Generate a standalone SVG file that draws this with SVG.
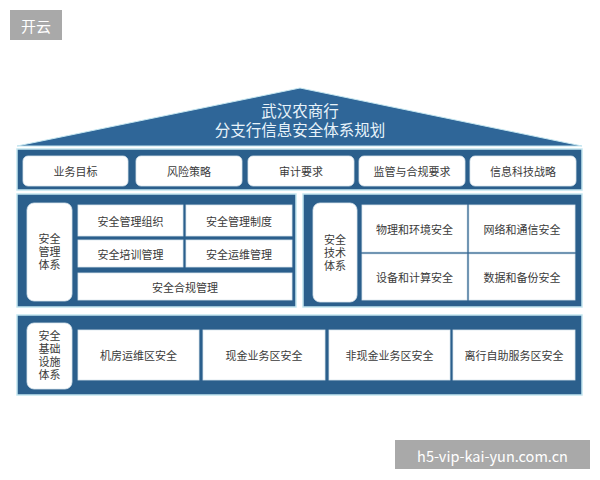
<svg xmlns="http://www.w3.org/2000/svg" width="600" height="480" viewBox="0 0 600 480">
<style>
.band{fill:#2b5f8c;stroke:#c4e6f0;stroke-width:1.5}
.cell{fill:#ffffff;stroke:#d9e6ee;stroke-width:0.8}
.t{font-family:"Noto Sans CJK SC","Liberation Sans",sans-serif;font-size:11px;fill:#3a3a3a;text-anchor:middle;dominant-baseline:central}
.v{font-family:"Liberation Sans","Noto Sans CJK SC",sans-serif;font-size:11px;fill:#3a3a3a;text-anchor:middle;dominant-baseline:central}
.roof{font-family:"Liberation Sans","Noto Sans CJK SC",sans-serif;font-size:15.5px;fill:#e8f3fa;text-anchor:middle;dominant-baseline:central}
.tag{fill:#a9a9a9}
.tagt{font-family:"Noto Sans CJK SC","Liberation Sans",sans-serif;fill:#ffffff;dominant-baseline:central}
</style>
<rect width="600" height="480" fill="#ffffff"/>
<g id="tag-top">
<rect class="tag" x="10" y="10" width="52" height="30"/>
<text class="tagt" x="36" y="25" font-size="15" text-anchor="middle">开云</text>
</g>
<g id="roof">
<polygon points="17,146 300,88 582,146" fill="#2f6698" stroke="#c4e6f0" stroke-width="1"/>
<text class="roof" x="300" y="111.5">武汉农商行</text>
<text class="roof" x="300" y="130">分支行信息安全体系规划</text>
</g>
<g id="row-top">
<rect class="band" x="17" y="149" width="565" height="41"/>
<g id="n-yewu"><rect class="cell" x="23" y="156" width="105" height="30" rx="5"/><text class="t" x="75.5" y="171">业务目标</text></g>
<g id="n-fengxian"><rect class="cell" x="136" y="156" width="106" height="30" rx="5"/><text class="t" x="189" y="171">风险策略</text></g>
<g id="n-shenji"><rect class="cell" x="248" y="156" width="106" height="30" rx="5"/><text class="t" x="301" y="171">审计要求</text></g>
<g id="n-jianguan"><rect class="cell" x="359" y="156" width="106" height="30" rx="5"/><text class="t" x="412" y="171">监管与合规要求</text></g>
<g id="n-xinxi"><rect class="cell" x="470" y="156" width="106" height="30" rx="5"/><text class="t" x="523" y="171">信息科技战略</text></g>
</g>
<g id="block-mgmt">
<rect class="band" x="17" y="194" width="279" height="113"/>
<g id="n-mgmt"><rect class="cell" x="27" y="203" width="45" height="98" rx="7"/>
<text class="v" x="49.5" y="239">安全</text><text class="v" x="49.5" y="252">管理</text><text class="v" x="49.5" y="265">体系</text></g>
<g id="n-zuzhi"><rect class="cell" x="78" y="205" width="105" height="31"/><text class="t" x="130.5" y="220.5">安全管理组织</text></g>
<g id="n-zhidu"><rect class="cell" x="186" y="205" width="106" height="31"/><text class="t" x="239" y="220.5">安全管理制度</text></g>
<g id="n-peixun"><rect class="cell" x="78" y="240" width="105" height="27"/><text class="t" x="130.5" y="253.5">安全培训管理</text></g>
<g id="n-yunwei"><rect class="cell" x="186" y="240" width="106" height="27"/><text class="t" x="239" y="253.5">安全运维管理</text></g>
<g id="n-hegui"><rect class="cell" x="78" y="273" width="214" height="27"/><text class="t" x="185" y="286.5">安全合规管理</text></g>
</g>
<g id="block-tech">
<rect class="band" x="303" y="194" width="279" height="113"/>
<g id="n-tech"><rect class="cell" x="313" y="203" width="44" height="99" rx="7"/>
<text class="v" x="335" y="240">安全</text><text class="v" x="335" y="253">技术</text><text class="v" x="335" y="266">体系</text></g>
<g id="n-wuli"><rect class="cell" x="362" y="205" width="105" height="47"/><text class="t" x="414.5" y="228.5">物理和环境安全</text></g>
<g id="n-wangluo"><rect class="cell" x="469" y="205" width="106" height="47"/><text class="t" x="522" y="228.5">网络和通信安全</text></g>
<g id="n-shebei"><rect class="cell" x="362" y="254" width="105" height="46"/><text class="t" x="414.5" y="277">设备和计算安全</text></g>
<g id="n-shuju"><rect class="cell" x="469" y="254" width="106" height="46"/><text class="t" x="522" y="277">数据和备份安全</text></g>
</g>
<g id="block-infra">
<rect class="band" x="17" y="315" width="565" height="80"/>
<g id="n-infra"><rect class="cell" x="27" y="323" width="45" height="66" rx="7"/>
<text class="v" x="49.5" y="336">安全</text><text class="v" x="49.5" y="349">基础</text><text class="v" x="49.5" y="362">设施</text><text class="v" x="49.5" y="375">体系</text></g>
<g id="n-jifang"><rect class="cell" x="78" y="330" width="121" height="50"/><text class="t" x="138.5" y="355">机房运维区安全</text></g>
<g id="n-xianjin"><rect class="cell" x="203" y="330" width="122" height="50"/><text class="t" x="264" y="355">现金业务区安全</text></g>
<g id="n-feixianjin"><rect class="cell" x="329" y="330" width="121" height="50"/><text class="t" x="389.5" y="355">非现金业务区安全</text></g>
<g id="n-lihang"><rect class="cell" x="453" y="330" width="122" height="50"/><text class="t" x="514" y="355">离行自助服务区安全</text></g>
</g>
<g id="connectors"></g>
<g id="tag-bottom">
<rect class="tag" x="395" y="440" width="195" height="29"/>
<text class="tagt" x="492.5" y="455" font-size="14.5" text-anchor="middle">h5-vip-kai-yun.com.cn</text>
</g>
</svg>
